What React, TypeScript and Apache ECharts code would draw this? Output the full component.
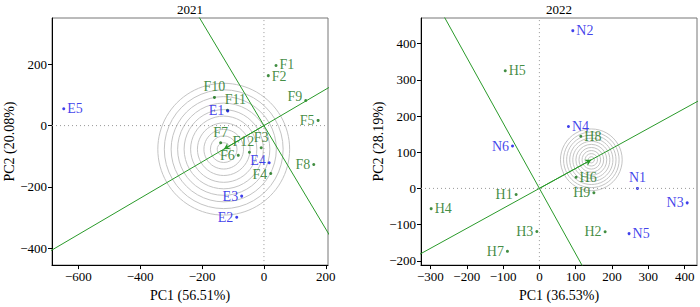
import React, { useEffect, useRef } from "react";
import * as echarts from "echarts";

// ---- 2021 ----
const names21G = ["F1", "F2", "F3", "F4", "F5", "F6", "F7", "F8", "F9", "F10", "F11", "F12"];
const x21G = [39, 14, -9, 22, 175, -83, -140, 161, 135, -160, -118, -47];
const y21G = [196, 163, -72, -156, 17, -97, -56, -127, 82, 92, 50, -87];
const names21E = ["E1", "E2", "E3", "E4", "E5"];
const x21E = [-117, -88, -72, 17, -647];
const y21E = [48, -299, -230, -121, 55];
const ideal21 = [-130, -77];
const rings21 = [21, 43, 64, 85, 107, 128, 149, 170, 192, 213];
const xRange21 = [-685, 207];
const yRange21 = [-455, 351];

// ---- 2022 ----
const names22G = ["H1", "H2", "H3", "H4", "H5", "H6", "H7", "H8", "H9"];
const x22G = [-64, 181, -7, -298, -94, 101, -88, 114, 150];
const y22G = [-17, -120, -119, -56, 325, 31, -174, 144, -12];
const names22E = ["N1", "N2", "N3", "N4", "N5", "N6"];
const x22E = [270, 92, 407, 80, 247, -74];
const y22E = [0, 436, -40, 171, -125, 117];
const ideal22 = [143, 79];
const rings22 = [8.5, 17, 25.5, 34, 42.5, 51, 59.5, 68, 76.5, 85];
const xRange22 = [-326, 434];
const yRange22 = [-212, 471];

const titles = ["2021", "2022"];
const xNames = ["PC1 (56.51%)", "PC1 (36.53%)"];
const yNames = ["PC2 (20.08%)", "PC2 (28.19%)"];

// label placement (style only)
const labelPos: Record<string, any> = {
  F1: ["right", [0, -1]], F2: ["right", [0, 1]], F3: "top", F4: ["left", [0, 1]], F5: "left", F6: "left", F7: "top",
  F8: "left", F9: ["left", [0, -4]], F10: "top", F11: ["top", [8, 0]], F12: ["top", [-6, 0]],
  E1: "left", E2: "left", E3: "left", E4: ["left", [0, -2]], E5: "right",
  H1: "left", H2: "left", H3: "left", H4: "right", H5: "right", H6: "right", H7: "left",
  H8: "right", H9: "left",
  N1: "top", N2: "right", N3: "left", N4: "right", N5: "right", N6: "left",
};

const GREEN_TEXT = "#127012";
const GREEN_LINE = "#2a9a2a";
const BLUE = "#0f0fe6";
const FONT = "Liberation Serif";

function pts(names: string[], xs: number[], ys: number[]) {
  return names.map((n, i) => {
    const p = labelPos[n];
    const pos = Array.isArray(p) ? p[0] : p;
    const off = Array.isArray(p) ? p[1] : [0, 0];
    return { name: n, value: [xs[i], ys[i]], label: { position: pos, offset: off } };
  });
}

function panelSeries(idx: number, gN: string[], gx: number[], gy: number[], eN: string[], ex: number[], ey: number[], ideal: number[], rings: number[], xr: number[], yr: number[]) {
  const common = { xAxisIndex: idx, yAxisIndex: idx };
  const t = 20;
  return [
    {
      type: "line", ...common, data: [[0, yr[0]], [0, yr[1]]], symbol: "none", silent: true,
      lineStyle: { color: "#999", width: 1, type: [1, 3] },
    },
    {
      type: "line", ...common, data: [[xr[0], 0], [xr[1], 0]], symbol: "none", silent: true,
      lineStyle: { color: "#999", width: 1, type: [1, 3] },
    },
    {
      type: "custom", ...common, silent: true,
      data: rings.map((r) => [ideal[0], ideal[1], r]),
      renderItem: (params: any, api: any) => {
        const c = api.coord([api.value(0), api.value(1)]);
        const r = api.size([api.value(2), 0])[0];
        return { type: "circle", shape: { cx: c[0], cy: c[1], r }, style: { fill: "none", stroke: "#c4c4c4", lineWidth: 1 } };
      },
    },
    {
      type: "line", ...common, symbol: "none", silent: true, clip: true,
      data: [[-t * ideal[0], -t * ideal[1]], [t * ideal[0], t * ideal[1]]],
      lineStyle: { color: GREEN_LINE, width: 1 },
      markLine: {
        silent: true, symbol: ["none", "arrow"], symbolSize: [5, 6],
        lineStyle: { color: GREEN_LINE, width: 1, type: "solid" }, label: { show: false },
        data: [[{ coord: [0, 0] }, { coord: ideal }]],
      },
    },
    {
      type: "line", ...common, symbol: "none", silent: true, clip: true,
      data: [[t * ideal[1], -t * ideal[0]], [-t * ideal[1], t * ideal[0]]],
      lineStyle: { color: GREEN_LINE, width: 1 },
    },
    {
      type: "scatter", ...common, symbolSize: 3, data: pts(gN, gx, gy),
      itemStyle: { color: GREEN_TEXT },
      label: { show: true, formatter: "{b}", color: GREEN_TEXT, fontSize: 14, fontFamily: FONT, distance: 2 },
    },
    {
      type: "scatter", ...common, symbolSize: 3, data: pts(eN, ex, ey),
      itemStyle: { color: BLUE },
      label: { show: true, formatter: "{b}", color: BLUE, fontSize: 14, fontFamily: FONT, distance: 2 },
    },
  ];
}

const fmt = (v: number) => String(v).replace("-", "\u2212");

function xAxis(idx: number, r: number[], split: number) {
  return {
    type: "value", gridIndex: idx, min: r[0], max: r[1], splitNumber: split,
    name: xNames[idx], nameLocation: "middle", nameGap: 22,
    nameTextStyle: { color: "#000", fontSize: 14, fontFamily: FONT },
    axisLine: { show: true, onZero: false, lineStyle: { color: "#000", width: 1 } },
    axisTick: { show: true, length: 4, inside: false, lineStyle: { color: "#000" } },
    axisLabel: { color: "#000", fontSize: 13, fontFamily: FONT, margin: 5, showMinLabel: false, showMaxLabel: false, formatter: fmt },
    splitLine: { show: false },
  };
}

function yAxis(idx: number, r: number[], split: number) {
  return {
    type: "value", gridIndex: idx, min: r[0], max: r[1], splitNumber: split,
    name: yNames[idx], nameLocation: "middle", nameGap: 35, nameRotate: 90,
    nameTextStyle: { color: "#000", fontSize: 14, fontFamily: FONT },
    axisLine: { show: true, onZero: false, lineStyle: { color: "#000", width: 1 } },
    axisTick: { show: true, length: 4, inside: false, lineStyle: { color: "#000" } },
    axisLabel: { color: "#000", fontSize: 13, fontFamily: FONT, margin: 5, showMinLabel: false, showMaxLabel: false, formatter: fmt },
    splitLine: { show: false },
  };
}

export default function App() {
  const ref = useRef<HTMLDivElement>(null);
  useEffect(() => {
    if (!ref.current) return;
    const chart = echarts.init(ref.current, null, { renderer: "svg" });
    chart.setOption({
      animation: false,
      backgroundColor: "#fff",
      title: [
        { text: titles[0], left: 190, top: 3, padding: 0, textAlign: "center", textStyle: { fontSize: 13, fontWeight: "normal", color: "#000", fontFamily: FONT } },
        { text: titles[1], left: 559, top: 3, padding: 0, textAlign: "center", textStyle: { fontSize: 13, fontWeight: "normal", color: "#000", fontFamily: FONT } },
      ],
      grid: [
        { left: 52, top: 18, width: 276, height: 248, show: true, borderColor: "#777", borderWidth: 1, backgroundColor: "transparent" },
        { left: 421, top: 18, width: 276, height: 248, show: true, borderColor: "#777", borderWidth: 1, backgroundColor: "transparent" },
      ],
      xAxis: [xAxis(0, xRange21, 5), xAxis(1, xRange22, 8)],
      yAxis: [yAxis(0, yRange21, 5), yAxis(1, yRange22, 7)],
      series: [
        ...panelSeries(0, names21G, x21G, y21G, names21E, x21E, y21E, ideal21, rings21, xRange21, yRange21),
        ...panelSeries(1, names22G, x22G, y22G, names22E, x22E, y22E, ideal22, rings22, xRange22, yRange22),
      ],
    });
    return () => chart.dispose();
  }, []);
  return <div ref={ref} style={{ position: "fixed", left: 0, top: 0, width: 700, height: 307 }} />;
}
